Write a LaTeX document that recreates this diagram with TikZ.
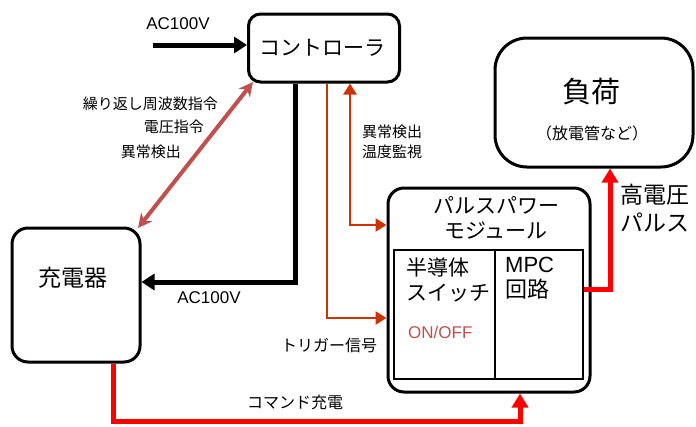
\documentclass[tikz,border=0pt]{standalone}
\usepackage{fontspec}
\setmainfont{Liberation Sans}
\newfontfamily\jp{Noto Sans CJK JP}
\usetikzlibrary{arrows.meta}
\definecolor{sigorange}{RGB}{204,51,0}
\definecolor{diagred}{RGB}{192,80,77}
\definecolor{pwrred}{RGB}{255,0,0}
\tikzset{
  blockbox/.style={draw=black, line width=3pt, fill=white},
  innerbox/.style={draw=black, line width=2.5pt},
  lbl/.style={inner sep=0pt, font=\jp\fontsize{15}{18}\selectfont, anchor=center},
  blackline/.style={draw=black, line width=5pt, -{Triangle[length=13pt,width=16pt]}},
  redline/.style={draw=pwrred, line width=5pt, -{Triangle[length=14pt,width=16pt]}},
  orangeline/.style={draw=sigorange, line width=2.5pt},
  otip/.style={-{Triangle[length=11pt,width=13pt]}},
  otiptwo/.style={{Triangle[length=11pt,width=13pt]}-{Triangle[length=11pt,width=13pt]}},
}
\begin{document}
\begin{tikzpicture}[x=1pt,y=-1pt]
\useasboundingbox (0,0) rectangle (696,426);
% boxes
\node[blockbox, rounded corners=12pt, minimum width=151pt, minimum height=68pt, inner sep=0pt] (ctrl) at (324,48) {};
\node[inner sep=0pt, font=\jp\fontsize{21}{24}\selectfont] (ctrltext) at (322,48) {コントローラ};
\node[blockbox, rounded corners=32pt, minimum width=198pt, minimum height=129pt, inner sep=0pt] (load) at (594,102.5) {};
\node[inner sep=0pt, font=\jp\fontsize{29}{32}\selectfont] (loadtext) at (591,92) {負荷};
\node[inner sep=0pt, font=\jp\fontsize{16}{18}\selectfont] (loadsub) at (592,133) {（放電管など）};
\node[blockbox, rounded corners=16pt, minimum width=128pt, minimum height=134pt, inner sep=0pt] (chg) at (76,295) {};
\node[inner sep=0pt, font=\jp\fontsize{23}{26}\selectfont] (chgtext) at (73,278) {充電器};
\node[blockbox, rounded corners=16pt, minimum width=202pt, minimum height=204pt, inner sep=0pt] (ppm) at (489,290) {};
\node[inner sep=0pt, font=\jp\fontsize{21}{24}\selectfont, align=center] (ppmtext) at (496,218) {パルスパワー\\[1pt]モジュール};
\node[innerbox, minimum width=101pt, minimum height=129pt, inner sep=0pt] (sw) at (444.5,314.5) {};
\node[innerbox, minimum width=88pt, minimum height=129pt, inner sep=0pt] (mpc) at (539,314.5) {};
\node[inner sep=0pt, font=\jp\fontsize{21}{25}\selectfont, align=left, anchor=north west] (swtext) at (406,258) {半導体\\スイッチ};
\node[inner sep=0pt, font=\fontsize{17}{19}\selectfont, text=diagred, anchor=west] (onoff) at (408,332) {ON/OFF};
\node[inner sep=0pt, font=\jp\fontsize{22}{25}\selectfont, align=left, anchor=north west] (mpctext) at (505,257) {\fontspec{Liberation Sans}MPC\\回路};
% coordinates
\coordinate (acin) at (153,45);
\coordinate (bk1) at (295,282);
\coordinate (tr1) at (327,318);
\coordinate (ab1) at (350,225);
\coordinate (cm1) at (113,421);
\coordinate (cm2) at (520,421);
\coordinate (hv1) at (610,289);
% connectors
\draw[blackline] (acin) -- (acin -| ctrl.west);
\draw[blackline] (bk1 |- ctrl.south) -- (bk1) -- (bk1 -| chg.east);
\draw[orangeline, otip] (tr1 |- ctrl.south) -- (tr1) -- (tr1 -| ppm.west);
\draw[orangeline, otiptwo] (ab1 |- ctrl.south) -- (ab1) -- (ab1 -| ppm.west);
\draw[draw=diagred, line width=4pt, {Stealth[length=14pt,width=14pt]}-{Stealth[length=14pt,width=14pt]}] (138,228) -- (253,82);
\draw[redline] (cm1 |- chg.south) -- (cm1) -- (cm2) -- (cm2 |- ppm.south);
\draw[redline] (mpc.east |- hv1) -- (hv1) -- (hv1 |- load.south);
% labels
\node[inner sep=0pt, font=\fontsize{17}{19}\selectfont] (ac1) at (178,24) {AC100V};
\node[inner sep=0pt, font=\fontsize{17}{19}\selectfont] (ac2) at (209,298) {AC100V};
\node[lbl, anchor=east] (l1) at (218,104) {繰り返し周波数指令};
\node[lbl, anchor=east] (l2) at (204,127) {電圧指令};
\node[lbl, anchor=east] (l3) at (181,152) {異常検出};
\node[lbl, anchor=west] (l4) at (362,132) {異常検出};
\node[lbl, anchor=west] (l5) at (362,152) {温度監視};
\node[lbl, font=\jp\fontsize{16}{18}\selectfont] (l6) at (329,345) {トリガー信号};
\node[lbl, font=\jp\fontsize{16}{18}\selectfont] (l7) at (295,402) {コマンド充電};
\node[inner sep=0pt, font=\jp\fontsize{23}{28}\selectfont, align=left, anchor=north west] (hvtext) at (620,184) {高電圧\\パルス};
\end{tikzpicture}
\end{document}
